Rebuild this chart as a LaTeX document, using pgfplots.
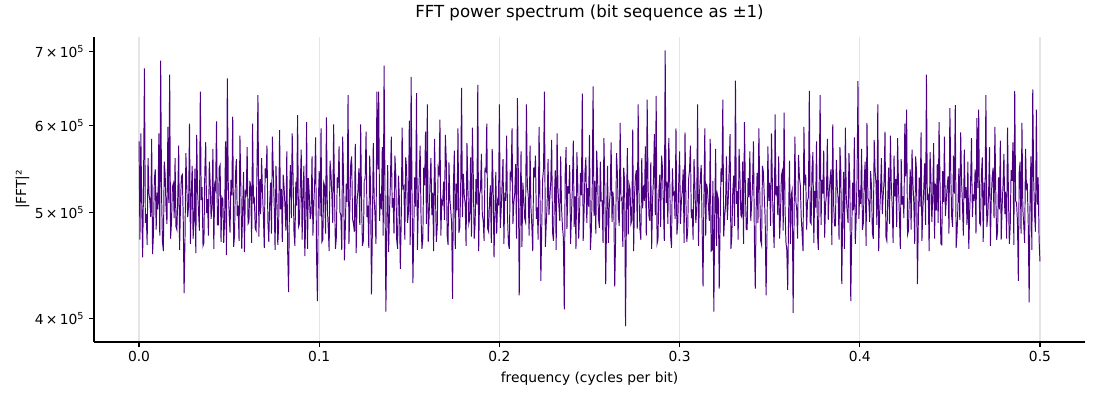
\documentclass[border=0pt]{standalone}
\usepackage{pgfplots}
\usepackage{pgfplotstable}
\usepackage{fontspec}
\setmainfont{DejaVu Sans}
\pgfplotsset{compat=1.18}
\definecolor{indig}{HTML}{4B0082}
\pgfplotstableread[row sep=\\]{
y\\
580\\472\\590\\508\\455\\531\\676\\489\\498\\467\\560\\520\\512\\495\\583\\458\\478\\536\\547\\482\\521\\503\\590\\476\\687\\519\\470\\461\\556\\541\\503\\488\\598\\510\\667\\473\\489\\527\\531\\494\\
560\\485\\482\\517\\575\\462\\508\\539\\541\\497\\422\\473\\566\\528\\495\\506\\602\\468\\519\\551\\473\\490\\548\\459\\588\\522\\501\\481\\644\\513\\527\\466\\469\\544\\579\\499\\514\\476\\556\\530\\
493\\508\\571\\463\\530\\525\\605\\487\\487\\549\\552\\470\\516\\514\\469\\492\\580\\457\\662\\533\\498\\479\\535\\518\\611\\465\\476\\540\\559\\496\\507\\471\\587\\527\\463\\502\\544\\460\\522\\519\\
573\\488\\490\\534\\528\\469\\602\\511\\514\\483\\481\\556\\639\\475\\536\\498\\560\\522\\497\\464\\548\\537\\575\\491\\470\\509\\532\\478\\586\\545\\509\\462\\551\\516\\467\\487\\594\\503\\525\\470\\
541\\527\\506\\481\\568\\459\\423\\516\\552\\494\\590\\538\\479\\466\\533\\507\\613\\485\\488\\529\\570\\472\\518\\551\\456\\490\\604\\463\\537\\518\\493\\499\\562\\476\\508\\535\\585\\458\\415\\512\\
545\\496\\596\\470\\472\\532\\528\\478\\610\\505\\484\\461\\557\\543\\519\\489\\601\\517\\463\\474\\538\\526\\574\\500\\497\\462\\586\\539\\452\\485\\531\\511\\639\\468\\505\\554\\562\\493\\488\\480\\
577\\459\\512\\523\\548\\487\\601\\509\\466\\471\\535\\536\\592\\495\\507\\464\\563\\528\\421\\482\\578\\515\\495\\468\\644\\547\\644\\491\\520\\503\\573\\476\\680\\521\\406\\487\\552\\460\\499\\532\\
586\\505\\515\\478\\563\\541\\472\\463\\540\\514\\444\\490\\597\\526\\528\\472\\561\\548\\489\\499\\606\\467\\664\\519\\431\\484\\538\\506\\642\\462\\508\\537\\575\\495\\463\\473\\549\\529\\592\\488\\
627\\470\\497\\532\\560\\497\\521\\461\\583\\520\\470\\485\\548\\543\\607\\476\\512\\509\\533\\492\\588\\558\\476\\467\\555\\514\\502\\488\\417\\531\\569\\463\\531\\502\\596\\479\\484\\524\\649\\495\\
542\\518\\509\\466\\578\\529\\488\\493\\561\\475\\597\\540\\473\\487\\536\\508\\653\\461\\519\\524\\565\\498\\491\\471\\547\\545\\602\\483\\480\\512\\529\\469\\571\\533\\455\\496\\544\\478\\512\\507\\
627\\484\\503\\531\\559\\468\\521\\512\\587\\495\\468\\463\\542\\537\\596\\488\\510\\520\\553\\473\\635\\542\\420\\497\\568\\465\\532\\516\\494\\490\\627\\529\\517\\476\\575\\505\\486\\461\\549\\538\\
563\\493\\505\\472\\598\\519\\433\\486\\536\\548\\644\\465\\488\\510\\559\\497\\516\\533\\582\\479\\471\\515\\546\\462\\590\\526\\507\\491\\562\\504\\485\\474\\408\\541\\573\\483\\528\\520\\552\\468\\
498\\527\\581\\485\\517\\463\\567\\530\\473\\498\\543\\518\\641\\471\\502\\544\\561\\489\\526\\506\\588\\462\\480\\523\\651\\496\\534\\478\\569\\537\\493\\484\\556\\512\\512\\469\\584\\528\\430\\495\\
551\\469\\508\\521\\579\\490\\522\\507\\428\\474\\566\\541\\497\\486\\603\\513\\515\\465\\549\\532\\394\\498\\572\\477\\530\\525\\488\\492\\595\\461\\518\\539\\546\\483\\627\\516\\482\\472\\560\\504\\
529\\512\\574\\476\\633\\528\\496\\491\\555\\463\\514\\535\\589\\497\\638\\468\\472\\522\\541\\485\\563\\549\\507\\471\\702\\510\\533\\488\\584\\536\\476\\464\\548\\519\\521\\493\\596\\477\\489\\530\\
568\\488\\512\\523\\547\\469\\591\\512\\470\\481\\536\\546\\575\\494\\503\\472\\559\\528\\489\\503\\627\\466\\518\\537\\552\\485\\428\\514\\596\\476\\531\\523\\507\\491\\583\\461\\462\\534\\406\\497\\
571\\466\\519\\514\\426\\488\\548\\533\\633\\475\\495\\507\\562\\492\\514\\548\\589\\463\\476\\521\\540\\486\\659\\509\\523\\472\\571\\538\\497\\495\\556\\468\\604\\527\\482\\482\\537\\516\\568\\491\\
509\\532\\580\\475\\426\\503\\543\\489\\596\\521\\471\\467\\551\\544\\517\\493\\420\\478\\574\\512\\532\\486\\590\\529\\486\\464\\614\\518\\528\\497\\562\\473\\498\\540\\545\\481\\616\\506\\470\\462\\
425\\497\\557\\468\\519\\524\\405\\486\\586\\512\\503\\473\\564\\538\\529\\495\\478\\461\\598\\529\\541\\482\\512\\516\\645\\490\\488\\547\\567\\469\\523\\505\\580\\478\\462\\533\\639\\487\\535\\520\\
569\\474\\508\\519\\583\\492\\521\\535\\547\\467\\601\\508\\486\\486\\558\\527\\514\\472\\573\\544\\430\\495\\544\\463\\597\\517\\501\\489\\566\\531\\415\\476\\532\\502\\585\\468\\493\\539\\658\\493\\
524\\509\\571\\482\\489\\537\\556\\466\\603\\515\\512\\490\\545\\528\\479\\473\\582\\546\\531\\487\\627\\461\\498\\521\\560\\498\\518\\534\\592\\475\\471\\512\\549\\488\\587\\529\\506\\469\\563\\517\\
536\\485\\584\\527\\495\\463\\559\\508\\517\\494\\602\\539\\620\\477\\481\\516\\547\\482\\570\\531\\509\\468\\562\\545\\430\\492\\538\\506\\591\\471\\503\\524\\554\\487\\667\\513\\520\\461\\567\\536\\
490\\518\\578\\473\\531\\502\\553\\489\\604\\536\\468\\467\\545\\511\\586\\496\\512\\528\\539\\478\\622\\542\\496\\485\\563\\520\\626\\464\\479\\509\\548\\492\\591\\533\\508\\476\\570\\515\\527\\487\\
556\\463\\501\\531\\584\\495\\519\\512\\547\\478\\609\\526\\620\\489\\487\\541\\561\\470\\532\\507\\639\\485\\495\\520\\573\\466\\516\\538\\549\\494\\598\\517\\472\\481\\538\\503\\581\\472\\506\\529\\
565\\498\\522\\473\\597\\519\\468\\486\\546\\534\\579\\467\\645\\512\\510\\491\\433\\545\\556\\478\\603\\503\\487\\469\\571\\526\\529\\488\\414\\515\\562\\462\\647\\537\\498\\480\\620\\508\\538\\473\\
451\\
}\spec
\begin{document}
\begin{tikzpicture}
\path[use as bounding box] (-0.94in,-0.58in) rectangle (10.06in,3.42in);
\begin{axis}[
  at={(0,0)}, anchor=south west,
  scale only axis, width=9.91in, height=3.05in,
  ymode=log,
  xmin=-0.025, xmax=0.525,
  ymin=381, ymax=722,
  axis x line*=bottom, axis y line*=left,
  axis line style={line width=0.8pt},
  xtick={0,0.1,0.2,0.3,0.4,0.5},
  xticklabels={0.0,0.1,0.2,0.3,0.4,0.5},
  ytick={400,500,600,700},
  yticklabels={4\,×\,10\textsuperscript{5},5\,×\,10\textsuperscript{5},6\,×\,10\textsuperscript{5},7\,×\,10\textsuperscript{5}},
  minor ytick={},
  tick align=outside, major tick length=3.5pt,
  tick style={line width=0.8pt, black},
  xmajorgrids, major grid style={color=black!10, line width=0.8pt},
  title={\fontsize{12}{14}\selectfont FFT power spectrum (bit sequence as ±1)},
  title style={yshift=2pt},
  xlabel={frequency (cycles per bit)},
  ylabel={|FFT|²},
  ylabel style={yshift=-3pt},
  tick label style={font=\fontsize{10}{12}\selectfont},
  label style={font=\fontsize{10}{12}\selectfont},
]
\addplot[color=indig, line width=0.7pt, no marks] table[x expr=\coordindex*0.0005, y=y] {\spec};
\end{axis}
\end{tikzpicture}
\end{document}
